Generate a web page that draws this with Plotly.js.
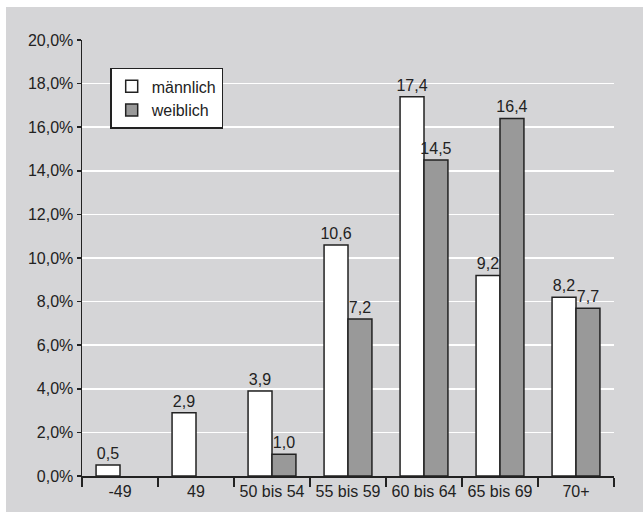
<!DOCTYPE html>
<html>
<head>
<meta charset="utf-8">
<script src="https://cdn.plot.ly/plotly-3.0.1.min.js"></script>
<style>
html,body{margin:0;padding:0;background:#ffffff;}
#chart{position:absolute;left:6px;top:7px;width:637px;height:505px;}
</style>
</head>
<body>
<div id="chart"></div>
<script>
const categories = ["-49", "49", "50 bis 54", "55 bis 59", "60 bis 64", "65 bis 69", "70+"];
const maennlich = [0.5, 2.9, 3.9, 10.6, 17.4, 9.2, 8.2];
const weiblich = [null, null, 1.0, 7.2, 14.5, 16.4, 7.7];
const yTickValues = [0, 2, 4, 6, 8, 10, 12, 14, 16, 18, 20];
const yTickLabels = ["0,0%", "2,0%", "4,0%", "6,0%", "8,0%", "10,0%", "12,0%", "14,0%", "16,0%", "18,0%", "20,0%"];

const FONT = '"Liberation Sans", Arial, sans-serif';
const FS = 16;
const TXT = "#222222";
const fmt = v => (v === null ? "" : v.toFixed(1).replace(".", ","));

const traces = [
  {
    type: "bar", name: "männlich", x: categories, y: maennlich,
    text: maennlich.map(fmt), textposition: "outside", cliponaxis: false,
    constraintext: "none",
    textfont: {family: FONT, size: FS, color: TXT},
    marker: {color: "#ffffff", line: {color: "#222222", width: 1.5}},
    hoverinfo: "skip"
  },
  {
    type: "bar", name: "weiblich", x: categories, y: weiblich,
    text: weiblich.map(fmt), textposition: "outside", cliponaxis: false,
    constraintext: "none",
    textfont: {family: FONT, size: FS, color: TXT},
    marker: {color: "#999999", line: {color: "#222222", width: 1.5}},
    hoverinfo: "skip"
  }
];

const layout = {
  width: 637, height: 505,
  paper_bgcolor: "#d5d5d7", plot_bgcolor: "#d5d5d7",
  margin: {l: 76, r: 29, t: 33, b: 36},
  font: {family: FONT, size: FS, color: TXT},
  barmode: "group", bargap: 0.37, bargroupgap: 0,
  showlegend: true,
  legend: {
    x: 0.053, y: 0.936, xanchor: "left", yanchor: "top",
    bgcolor: "#ffffff", bordercolor: "#222222", borderwidth: 1.5,
    font: {family: FONT, size: FS, color: TXT},
    traceorder: "normal"
  },
  xaxis: {
    type: "category", tickson: "boundaries", ticks: "outside", ticklen: 9,
    tickwidth: 1.5, tickcolor: "#222",
    showline: true, linecolor: "#222", linewidth: 1.5,
    showgrid: false, zeroline: false,
    tickfont: {family: FONT, size: FS, color: TXT}
  },
  yaxis: {
    range: [0, 20], tickmode: "array", tickvals: yTickValues, ticktext: yTickLabels,
    ticks: "outside", ticklen: 4, tickwidth: 1.5, tickcolor: "#222",
    showline: true, linecolor: "#222", linewidth: 1.5,
    showgrid: true, gridcolor: "#ffffff", gridwidth: 1.5,
    zeroline: false,
    tickfont: {family: FONT, size: FS, color: TXT}
  }
};

Plotly.newPlot("chart", traces, layout, {displayModeBar: false, staticPlot: true});
</script>
</body>
</html>
